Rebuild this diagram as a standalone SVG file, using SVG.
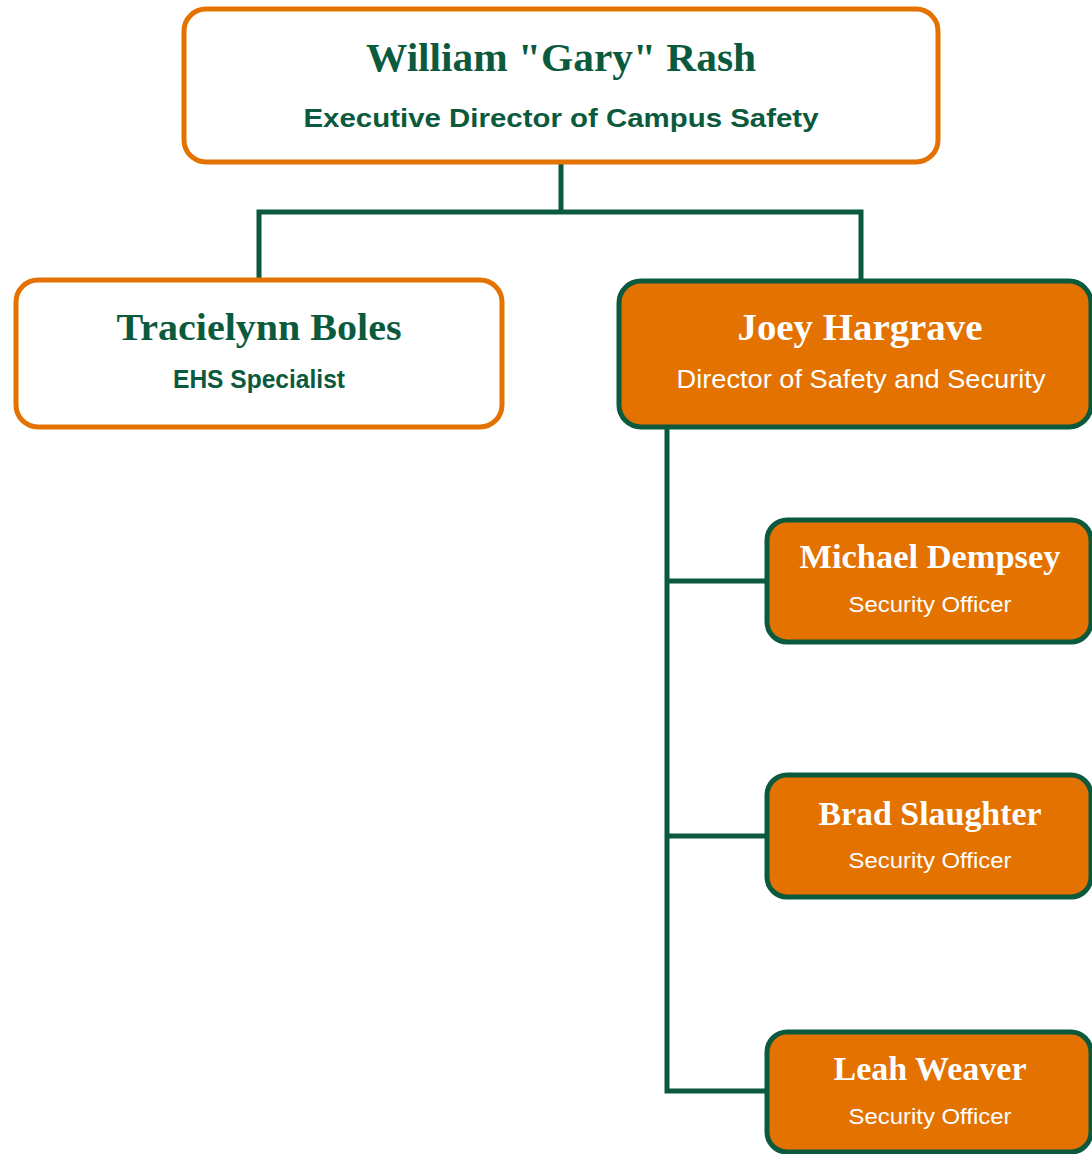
<svg xmlns="http://www.w3.org/2000/svg" width="1092" height="1154" viewBox="0 0 1092 1154">
<style>
.wbox{fill:#ffffff;stroke:#E37200;stroke-width:5}
.obox{fill:#E37200;stroke:#0B5A3E;stroke-width:5}
.conn{fill:none;stroke:#0B5A3E;stroke-width:5;stroke-linejoin:miter}
.name{font-family:"Liberation Serif","DejaVu Serif",serif;font-weight:bold;text-anchor:middle}
.sub{font-family:"Liberation Sans","Open Sans",sans-serif;text-anchor:middle}
.g{fill:#0B5A3E}
.w{fill:#ffffff}
</style>
<rect width="1092" height="1154" fill="#ffffff"/>
<g id="connectors">
<path class="conn" d="M561,162 V212 M259,279 V212 H861 V280"/>
<path class="conn" d="M667,427 V1091 H766 M667,581 H766 M667,836 H766"/>
</g>
<g id="node-rash">
<rect class="wbox" x="184" y="9" width="754" height="153" rx="22"/>
<text class="name g" x="561" y="71" font-size="40" textLength="390" lengthAdjust="spacingAndGlyphs">William "Gary" Rash</text>
<text class="sub g" x="561" y="127" font-size="26" font-weight="bold" textLength="515" lengthAdjust="spacingAndGlyphs">Executive Director of Campus Safety</text>
</g>
<g id="node-boles">
<rect class="wbox" x="16" y="280" width="486" height="147" rx="22"/>
<text class="name g" x="259" y="340" font-size="37" textLength="285" lengthAdjust="spacingAndGlyphs">Tracielynn Boles</text>
<text class="sub g" x="259" y="388" font-size="25" font-weight="bold" textLength="172" lengthAdjust="spacingAndGlyphs">EHS Specialist</text>
</g>
<g id="node-hargrave">
<rect class="obox" x="619" y="281" width="472" height="146" rx="22"/>
<text class="name w" x="860" y="340" font-size="37" textLength="245" lengthAdjust="spacingAndGlyphs">Joey Hargrave</text>
<text class="sub w" x="861" y="388" font-size="25" textLength="369" lengthAdjust="spacingAndGlyphs">Director of Safety and Security</text>
</g>
<g id="node-dempsey">
<rect class="obox" x="767" y="520" width="324" height="122" rx="20"/>
<text class="name w" x="930" y="568" font-size="33" textLength="261" lengthAdjust="spacingAndGlyphs">Michael Dempsey</text>
<text class="sub w" x="930" y="612" font-size="22" textLength="163" lengthAdjust="spacingAndGlyphs">Security Officer</text>
</g>
<g id="node-slaughter">
<rect class="obox" x="767" y="775" width="324" height="122" rx="20"/>
<text class="name w" x="930" y="825" font-size="33" textLength="223" lengthAdjust="spacingAndGlyphs">Brad Slaughter</text>
<text class="sub w" x="930" y="868" font-size="22" textLength="163" lengthAdjust="spacingAndGlyphs">Security Officer</text>
</g>
<g id="node-weaver">
<rect class="obox" x="767" y="1032" width="324" height="120" rx="20"/>
<text class="name w" x="930" y="1080" font-size="33" textLength="193" lengthAdjust="spacingAndGlyphs">Leah Weaver</text>
<text class="sub w" x="930" y="1124" font-size="22" textLength="163" lengthAdjust="spacingAndGlyphs">Security Officer</text>
</g>
</svg>
